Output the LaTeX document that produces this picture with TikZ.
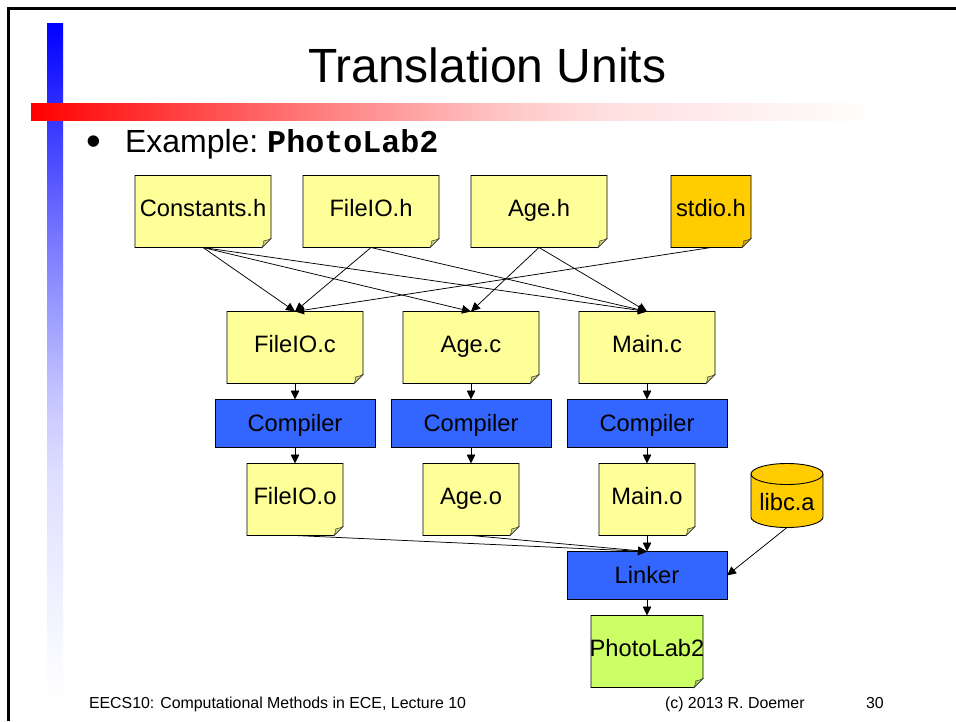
\documentclass[tikz,border=0pt]{standalone}
\usepackage{fontspec}
\setmainfont{Liberation Sans}
\newfontfamily\monobold[BoldFont=Liberation Mono Bold]{Liberation Mono}
\usetikzlibrary{arrows.meta}
\pgfdeclarehorizontalshading{redfade}{100bp}{color(0bp)=(red); color(25bp)=(red); color(41bp)=(red!53!white); color(52.5bp)=(red!23!white); color(58.3bp)=(red!13!white); color(67bp)=(red!6!white); color(75bp)=(white); color(100bp)=(white)}
\pgfdeclareverticalshading{bluefade}{100bp}{color(0bp)=(white); color(25bp)=(white); color(33bp)=(blue!6!white); color(41.7bp)=(blue!13!white); color(47.5bp)=(blue!23!white); color(59bp)=(blue!53!white); color(75bp)=(blue); color(100bp)=(blue)}
\definecolor{noteyellow}{HTML}{FFFF99}
\definecolor{earyellow}{HTML}{CCCC7A}
\definecolor{boxblue}{HTML}{3366FF}
\definecolor{noteorange}{HTML}{FFCC00}
\definecolor{earorange}{HTML}{CCA300}
\definecolor{notegreen}{HTML}{CCFF66}
\definecolor{eargreen}{HTML}{A3CC52}
\tikzset{
  x=1pt,y=-1pt,
  outline/.style={draw=black,line width=0.9pt,line join=miter},
  conn/.style={draw=black,line width=0.75pt,-{Triangle[length=9pt,width=8.5pt]}},
  procbox/.style={outline,fill=boxblue,inner sep=0pt,outer sep=0pt,minimum width=160pt,
    text height=32pt,text depth=16pt,font=\fontsize{23.7}{24}\selectfont},
  frameline/.style={draw=black,line width=2.6pt},
  slidetext/.style={inner sep=0pt,outer sep=0pt,anchor=base west},
}
% name, x1, y1, x2, y2, text, fill, ear fill
\newcommand{\notebox}[8]{%
  \draw[outline,fill=#7] (#2,#3) -- (#4,#3) -- (#4,#5-9) -- (#4-9,#5) -- (#2,#5) -- cycle;
  \draw[draw=black!70,line width=0.5pt,fill=#8] (#4,#5-9) .. controls (#4-3,#5-7.5) and (#4-6,#5-6.5) .. (#4-7.3,#5-6.7) .. controls (#4-7.5,#5-4) and (#4-8,#5-2) .. (#4-9,#5) -- cycle;
  \node[inner sep=0pt,outer sep=0pt,font=\fontsize{23.7}{24}\selectfont,text height=#5-#3-31pt,text depth=31pt,
        text width=#4pt-#2pt] (#1) at ({(#2+#4)/2},{(#3+#5)/2}) {\hbox to \linewidth{\hss #6\hss}};
}
\begin{document}
\begin{tikzpicture}
\useasboundingbox (0,0) rectangle (956,721);
\fill[white] (0,0) rectangle (956,721);
% slide furniture
\shade[shading=bluefade] (47,23) rectangle (63,700);
\shade[shading=redfade] (31,103) rectangle (885,120);
\draw[frameline] (8.5,721) -- (8.5,8.5) -- (956,8.5);
\node[slidetext,font=\fontsize{48}{48}\selectfont] (title) at (308,82) {Translation Units};
\node[slidetext,font=\fontsize{42}{42}\selectfont] (bullet) at (86.3,155) {•};
\node[slidetext,font=\fontsize{32}{32}\selectfont] (example) at (125,152.3) {Example: \kern-3pt{\monobold\bfseries\fontsize{31.7}{32}\selectfont PhotoLab2}};
\node[slidetext,font=\fontsize{15.9}{16}\selectfont] (footl) at (89,708) {EECS10: Computational Methods in ECE, Lecture 10};
\node[slidetext,font=\fontsize{15.9}{16}\selectfont] (footc) at (665,708) {(c) 2013 R. Doemer};
\node[slidetext,font=\fontsize{15.9}{16}\selectfont] (footn) at (866,708) {30};
% headers
\notebox{consth}{135}{175.5}{271}{247.5}{Constants.h}{noteyellow}{earyellow}
\notebox{fileh}{303}{175.5}{439}{247.5}{FileIO.h}{noteyellow}{earyellow}
\notebox{ageh}{471}{175.5}{607}{247.5}{Age.h}{noteyellow}{earyellow}
\notebox{stdioh}{671}{175.5}{751}{247.5}{stdio.h}{noteorange}{earorange}
% sources
\notebox{filec}{227}{311.5}{363}{383.5}{FileIO.c}{noteyellow}{earyellow}
\notebox{agec}{403}{311.5}{539}{383.5}{Age.c}{noteyellow}{earyellow}
\notebox{mainc}{579}{311.5}{715}{383.5}{Main.c}{noteyellow}{earyellow}
% compilers
\node[procbox] (comp1) at (295,423.5) {Compiler};
\node[procbox] (comp2) at (471,423.5) {Compiler};
\node[procbox] (comp3) at (647,423.5) {Compiler};
% objects
\notebox{fileo}{247}{463.5}{343}{535.5}{FileIO.o}{noteyellow}{earyellow}
\notebox{ageo}{423}{463.5}{519}{535.5}{Age.o}{noteyellow}{earyellow}
\notebox{maino}{599}{463.5}{695}{535.5}{Main.o}{noteyellow}{earyellow}
% library
\draw[outline,fill=noteorange] (751,474) -- (751,517) arc[start angle=180,end angle=0,x radius=36,y radius=10.5] -- (823,474) -- cycle;
\draw[outline,fill=noteorange] (787,474) ellipse[x radius=36,y radius=10.5];
\node[inner sep=0pt,outer sep=0pt,font=\fontsize{23.7}{24}\selectfont,text height=47pt,text depth=17pt,minimum width=72pt] (libc) at (787,495.5) {libc.a};
% linker and result
\node[procbox] (linker) at (647,575.5) {Linker};
\notebox{photo}{591}{615.5}{703}{687.5}{PhotoLab2}{notegreen}{eargreen}
% connectors
\draw[conn] (consth.south) -- (filec.north);
\draw[conn] (consth.south) -- (agec.north);
\draw[conn] (consth.south) -- (mainc.north);
\draw[conn] (fileh.south) -- (filec.north);
\draw[conn] (fileh.south) -- (mainc.north);
\draw[conn] (ageh.south) -- (agec.north);
\draw[conn] (ageh.south) -- (mainc.north);
\draw[conn] (stdioh.south) -- (filec.north);
\draw[conn] (filec.south) -- (comp1.north);
\draw[conn] (agec.south) -- (comp2.north);
\draw[conn] (mainc.south) -- (comp3.north);
\draw[conn] (comp1.south) -- (fileo.north);
\draw[conn] (comp2.south) -- (ageo.north);
\draw[conn] (comp3.south) -- (maino.north);
\draw[conn] (fileo.south) -- (linker.north);
\draw[conn] (ageo.south) -- (linker.north);
\draw[conn] (maino.south) -- (linker.north);
\draw[conn] (libc.south) -- (linker.east);
\draw[conn] (linker.south) -- (photo.north);
\end{tikzpicture}
\end{document}
